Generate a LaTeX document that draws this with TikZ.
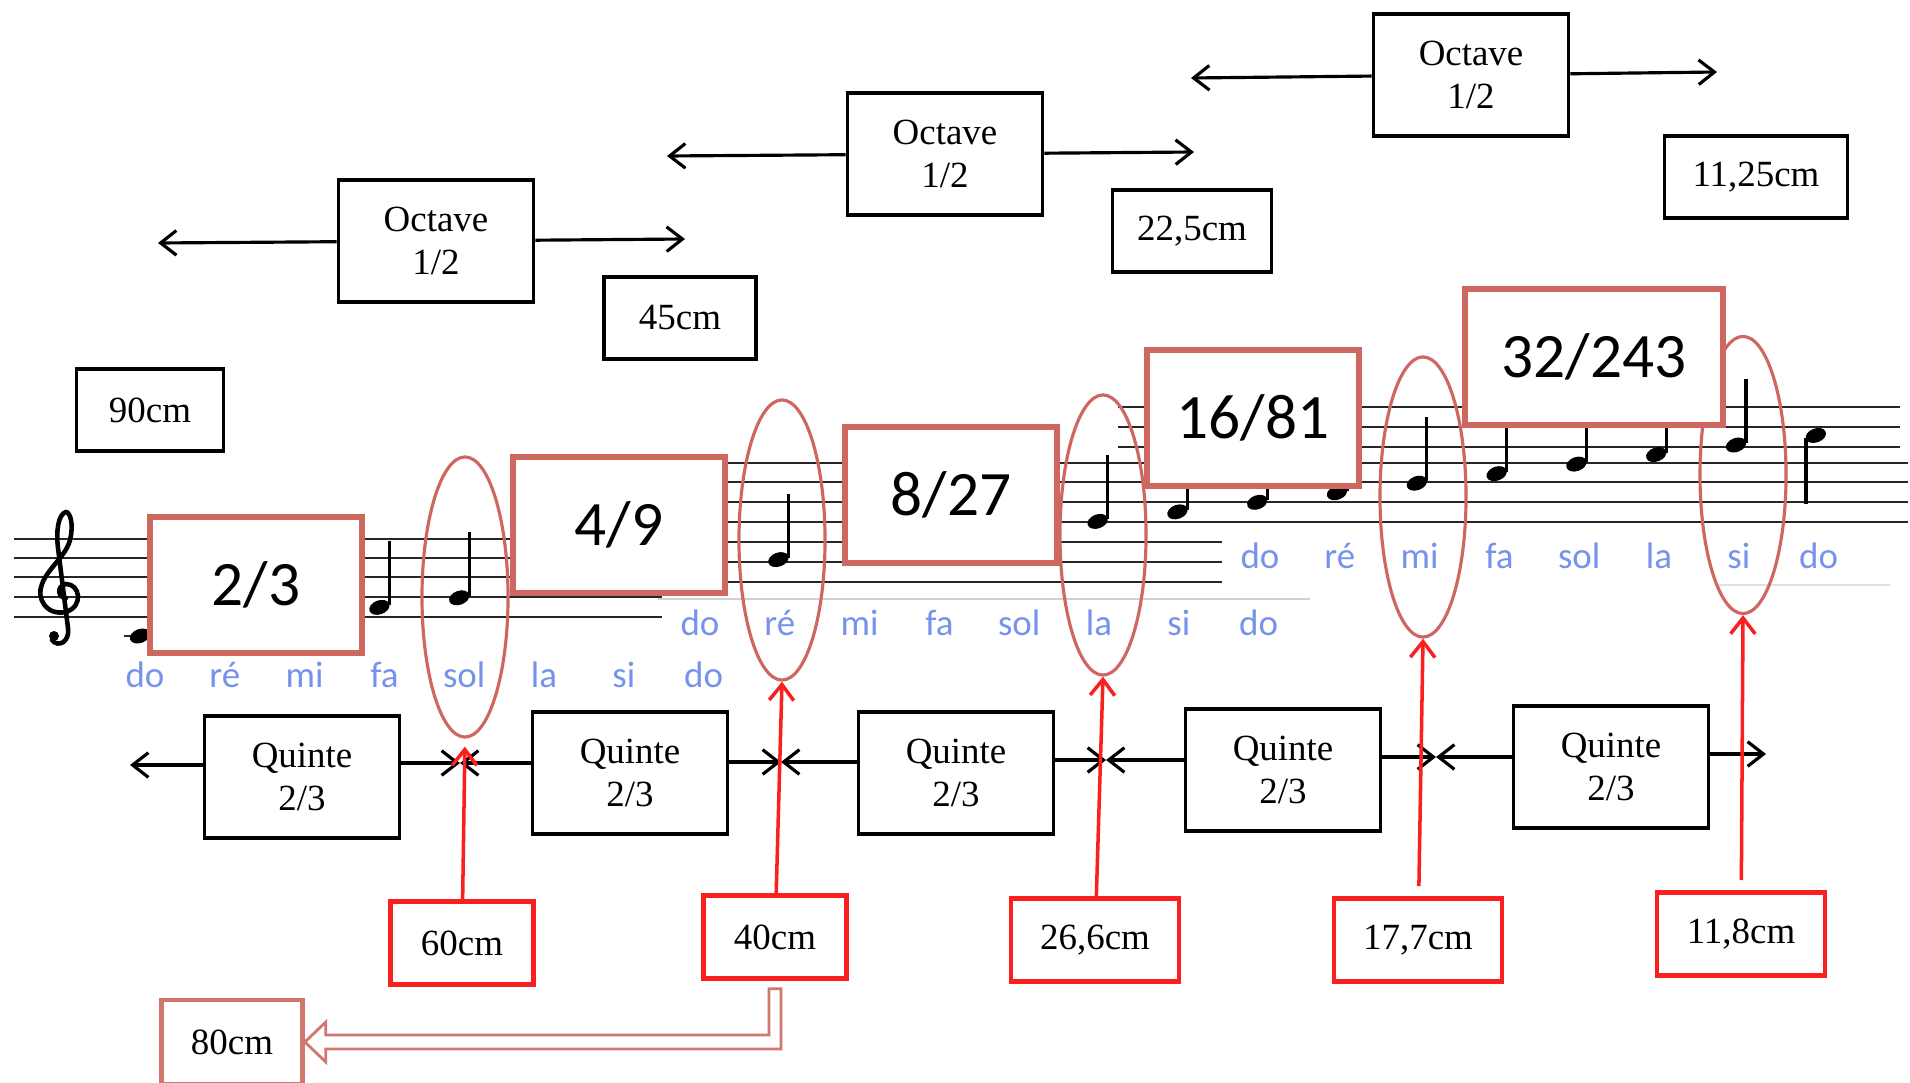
\documentclass[tikz,border=0pt]{standalone}
\usepackage{fontspec}
\setmainfont{Liberation Serif}
\newfontfamily\calfont{Carlito}
\usepackage{xcolor}
\usetikzlibrary{arrows.meta, shapes.geometric, calc}
\definecolor{palered}{RGB}{205,103,96}
\definecolor{brightred}{RGB}{250,32,32}
\definecolor{noteblue}{RGB}{118,146,235}

\begin{document}
\begin{tikzpicture}[x=0.01cm, y=-0.01cm,
  blackbox/.style={shape=rectangle,draw,line width=1pt,fill=white,align=center,inner sep=0pt,font=\fontsize{10.5}{12}\selectfont},
  octbox/.style={blackbox,minimum width=1.95cm,minimum height=1.22cm},
  cmbox/.style={blackbox,minimum height=0.82cm},
  redbox/.style={blackbox,draw=brightred,line width=1.3pt,minimum height=0.83cm},
  ratiobox/.style={shape=rectangle,draw=palered,line width=1.5pt,fill=white,minimum width=2.12cm,minimum height=1.36cm,font=\calfont\fontsize{18}{20}\selectfont},
  oval/.style={shape=ellipse,draw=palered,line width=0.9pt,minimum width=0.86cm,minimum height=2.8cm,inner sep=0pt},
  arr/.style={-{Straight Barb[length=4.5pt,width=7pt]},line width=0.9pt},
  redarr/.style={arr,draw=brightred,line width=1pt},
  staff/.style={line width=0.7pt,black!85},
  lbl/.style={text=noteblue,inner sep=0pt,font=\calfont\fontsize{10.5}{12}\selectfont},
  hollow/.style={draw=palered!90,line width=0.8pt}]

\useasboundingbox (0,0) rectangle (1910,1082);

\foreach \y in {539,558,577,597,617} \draw[staff] (14,\y) -- (662,\y);
\foreach \y in {542,562,582} \draw[staff] (665,\y) -- (1222,\y);
\foreach \y in {463,482,502,522} \draw[staff] (665,\y) -- (1908,\y);
\foreach \y in {407,427,447} \draw[staff] (1118,\y) -- (1900,\y);
\draw[black!18,line width=0.5pt] (658,599) -- (1310,599);
\draw[black!12,line width=0.4pt] (1715,585) -- (1890,585);
\draw[staff] (124,636) -- (154,636);

\draw[line width=1.3pt,line cap=round] (66,598) .. controls (58,598) and (56,586) .. (66,584)
  .. controls (80,584) and (84,606) .. (66,612) .. controls (46,616) and (36,598) .. (42,584)
  .. controls (48,568) and (66,556) .. (70,540) .. controls (74,524) and (70,512) .. (66,512)
  .. controls (58,514) and (56,532) .. (58,548) -- (68,628)
  .. controls (70,642) and (58,648) .. (52,640);
\fill (54,636) circle [radius=5];

\foreach \i in {0,...,21} {
  \fill[shift={({140+79.8*\i},{636-9.55*\i})},rotate=20] (0,0) ellipse [x radius=10.5,y radius=7];
}
\foreach \i in {0,...,20} \draw[line width=0.9pt] ({150+79.8*\i},{634-9.55*\i}) -- ++(0,-64);
\draw[line width=0.9pt] (1806,438) -- ++(0,66);

\foreach \n [count=\i from 0] in {do,ré,mi,fa,sol,la,si,do} {
  \node (sa\i) [lbl] at ({145+79.8*\i},675) {\n};
  \node (sb\i) [lbl] at ({700+79.8*\i},623) {\n};
  \node (sc\i) [lbl] at ({1260+79.8*\i},556) {\n};
}

\node (esol) [oval] at (465,597) {};
\node (ere) [oval] at (782,540) {};
\node (ela) [oval] at (1103,535) {};
\node (emi) [oval] at (1423,497) {};
\node (esi) [oval,minimum height=2.77cm] at (1743,475) {};

\node (f1) [ratiobox] at (256,585) {2/3};
\node (f2) [ratiobox] at (619,525) {4/9};
\node (f3) [ratiobox] at (951,495) {8/27};
\node (f4) [ratiobox] at (1253,418) {16/81};
\node (f5) [ratiobox,minimum width=2.58cm] at (1594,357) {32/243};

\node (o1) [octbox] at (436,241) {Octave\\1/2};
\node (o2) [octbox] at (945,154) {Octave\\1/2};
\node (o3) [octbox] at (1471,75) {Octave\\1/2};
\coordinate (o1l) at (158,243);
\coordinate (o1r) at (685,239);
\coordinate (o2l) at (667,156);
\coordinate (o2r) at (1194,152);
\coordinate (o3l) at (1191,78);
\coordinate (o3r) at (1717,72);
\foreach \o in {o1,o2,o3} {
  \draw[arr] (\o) -- (\o l);
  \draw[arr] (\o) -- (\o r);
}

\node (b90) [cmbox,minimum width=1.47cm] at (150,410) {90cm};
\node (b45) [cmbox,minimum width=1.52cm] at (680,318) {45cm};
\node (b225) [cmbox,minimum width=1.59cm] at (1192,231) {22,5cm};
\node (b1125) [cmbox,minimum width=1.83cm] at (1756,177) {11,25cm};

\node (q1) [octbox] at (302,777) {Quinte\\2/3};
\node (q2) [octbox] at (630,773) {Quinte\\2/3};
\node (q3) [octbox] at (956,773) {Quinte\\2/3};
\node (q4) [octbox] at (1283,770) {Quinte\\2/3};
\node (q5) [octbox] at (1611,767) {Quinte\\2/3};
\coordinate (j0) at (130,765);
\coordinate (j1) at (460,763);
\coordinate (j2) at (781,762);
\coordinate (j3) at (1106,760);
\coordinate (j4) at (1436,757);
\coordinate (j5) at (1766,754);
\foreach \q/\a/\b in {q1/j0/j1,q2/j1/j2,q3/j2/j3,q4/j3/j4,q5/j4/j5} {
  \draw[arr] (\q.west |- \a) -- (\a);
  \draw[arr] (\q.east |- \b) -- (\b);
}

\node (r60) [redbox,minimum width=1.43cm] at (462,943) {60cm};
\node (r40) [redbox,minimum width=1.43cm] at (775,937) {40cm};
\node (r266) [redbox,minimum width=1.68cm] at (1095,940) {26,6cm};
\node (r177) [redbox,minimum width=1.68cm] at (1418,940) {17,7cm};
\node (r118) [redbox,minimum width=1.68cm] at (1741,934) {11,8cm};
\draw[redarr,shorten >=0.08cm] (r60) -- (esol.south);
\draw[redarr] (r40) -- (ere.south);
\draw[redarr] (r266) -- (ela.south);
\draw[redarr,shorten <=0.1cm] (r177) -- (emi.south);
\draw[redarr,shorten <=0.1cm] (r118) -- (esi.south);

\node (r80) [redbox,draw=palered!90,minimum width=1.41cm,minimum height=0.84cm] at (232,1042) {80cm};
\draw[hollow] ($(r40.south)+(-6,8)$) |- ($(r80.east)+(21,-7)$) -- ++(0,-13) -- (r80.east)
  -- ++(21,20) -- ++(0,-13) -| ($(r40.south)+(6,8)$) -- cycle;

\end{tikzpicture}
\end{document}
